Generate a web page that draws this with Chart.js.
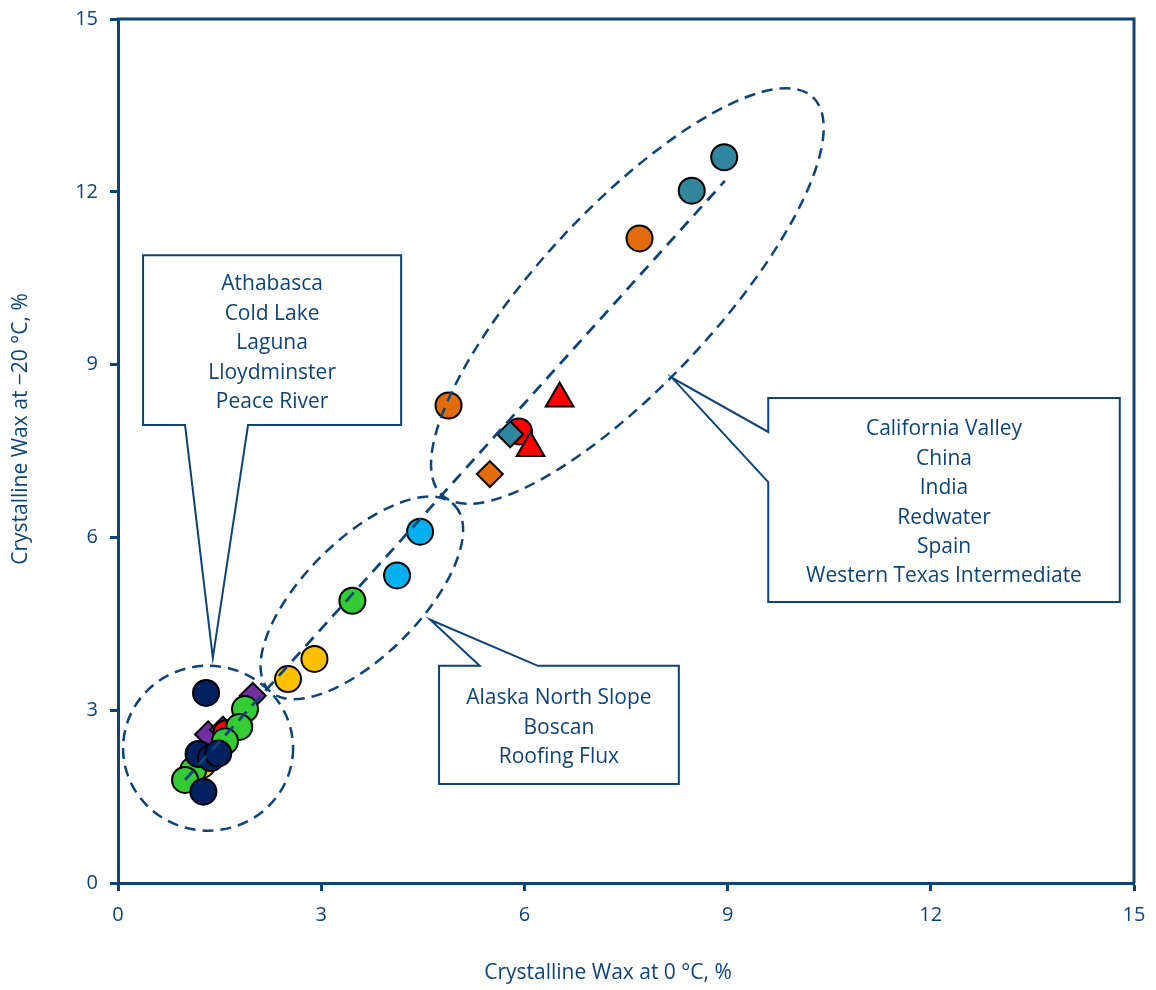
<!DOCTYPE html>
<html>
<head>
<meta charset="utf-8">
<script src="https://cdn.jsdelivr.net/npm/chart.js@4.4.1/dist/chart.umd.min.js"></script>
<style>
  html, body { margin: 0; padding: 0; background: #ffffff; }
  #wrap { width: 1156px; height: 990px; position: relative; }
</style>
</head>
<body>
<div id="wrap"><canvas id="chart" width="1156" height="990"></canvas></div>
<script>
// Crystalline wax content: x = at 0 °C (%), y = at -20 °C (%)
const navyCircleX   = [1.30, 1.19, 1.37, 1.48, 1.26];
const navyCircleY   = [3.30, 2.24, 2.17, 2.25, 1.585];
const greenCircleX  = [3.46, 1.875, 1.79, 1.58, 1.11, 0.99];
const greenCircleY  = [4.90, 3.02, 2.71, 2.46, 1.96, 1.79];
const redCircleX    = [5.92, 1.60];
const redCircleY    = [7.84, 2.60];
const purpleDiamondX = [1.99, 1.33, 1.55];
const purpleDiamondY = [3.25, 2.58, 2.66];
const yellowCircleX = [2.90, 2.51, 1.24];
const yellowCircleY = [3.89, 3.54, 2.05];
const skyCircleX    = [4.46, 4.12];
const skyCircleY    = [6.10, 5.34];
const orangeCircleX = [4.88, 7.70];
const orangeCircleY = [8.29, 11.19];
const orangeDiamondX = [5.49];
const orangeDiamondY = [7.10];
const tealCircleX   = [8.47, 8.95];
const tealCircleY   = [12.02, 12.60];
const tealDiamondX  = [5.79];
const tealDiamondY  = [7.79];
const redTriangleX  = [6.52, 6.09];
const redTriangleY  = [8.41, 7.55];

// Trend line end points
const trendX = [0.99, 8.96];
const trendY = [1.79, 12.19];

// Axis ticks
const xTickValues = [0, 3, 6, 9, 12, 15];
const yTickValues = [0, 3, 6, 9, 12, 15];

// Callout label lists
const heavyGroup = ['Athabasca', 'Cold Lake', 'Laguna', 'Lloydminster', 'Peace River'];
const middleGroup = ['Alaska North Slope', 'Boscan', 'Roofing Flux'];
const waxyGroup = ['California Valley', 'China', 'India', 'Redwater', 'Spain', 'Western Texas Intermediate'];

const INK = '#0D4477';
const FONT = '"Open Sans", Lato, sans-serif';

function pts(xs, ys) { return xs.map((v, i) => ({ x: v, y: ys[i] })); }

function markerSet(label, xs, ys, color, style, radius, order) {
  return {
    type: 'scatter', label, data: pts(xs, ys),
    pointStyle: style, pointRadius: radius, pointHoverRadius: radius,
    backgroundColor: color, borderColor: '#000000', borderWidth: 2,
    order
  };
}

// Grouping ellipses (centre in data units, radii in pixels)
const ellipses = [
  { cx: 1.33, cy: 2.34, rx: 85, ry: 82.5, rot: 0 },
  { cx: 3.60, cy: 4.95, rx: 131, ry: 58, rot: -45 },
  { cx: 7.52, cy: 10.19, rx: 272, ry: 88, rot: -47 }
];

// Callout boxes with a wedge pointer (data units)
const callouts = [
  { lines: heavyGroup, x0: 0.37, x1: 4.18, yTop: 10.90, yBot: 7.95,
    edge: 'bottom', b1: 0.99, b2: 1.92, tip: { x: 1.40, y: 3.91 } },
  { lines: middleGroup, x0: 4.74, x1: 8.28, yTop: 3.77, yBot: 1.72,
    edge: 'top', b1: 5.34, b2: 6.20, tip: { x: 4.61, y: 4.57 } },
  { lines: waxyGroup, x0: 9.60, x1: 14.79, yTop: 8.42, yBot: 4.88,
    edge: 'left', b1: 7.83, b2: 6.96, tip: { x: 8.18, y: 8.77 } }
];

const decorations = {
  id: 'decorations',
  afterDatasetsDraw(chart) {
    const { ctx, scales: { x, y } } = chart;
    const px = v => x.getPixelForValue(v);
    const py = v => y.getPixelForValue(v);
    ctx.save();

    // dashed ellipses
    ctx.strokeStyle = INK;
    ctx.lineWidth = 2.5;
    ctx.setLineDash([11, 7]);
    ellipses.forEach(e => {
      ctx.beginPath();
      ctx.ellipse(px(e.cx), py(e.cy), e.rx, e.ry, e.rot * Math.PI / 180, 0, 2 * Math.PI);
      ctx.stroke();
    });
    ctx.setLineDash([]);

    // callouts
    callouts.forEach(c => {
      const L = px(c.x0), R = px(c.x1), T = py(c.yTop), B = py(c.yBot);
      const tx = px(c.tip.x), ty = py(c.tip.y);
      ctx.beginPath();
      if (c.edge === 'bottom') {
        ctx.moveTo(L, T); ctx.lineTo(R, T); ctx.lineTo(R, B);
        ctx.lineTo(px(c.b2), B); ctx.lineTo(tx, ty); ctx.lineTo(px(c.b1), B);
        ctx.lineTo(L, B);
      } else if (c.edge === 'top') {
        ctx.moveTo(L, T); ctx.lineTo(px(c.b1), T); ctx.lineTo(tx, ty);
        ctx.lineTo(px(c.b2), T); ctx.lineTo(R, T); ctx.lineTo(R, B); ctx.lineTo(L, B);
      } else {
        ctx.moveTo(L, T); ctx.lineTo(R, T); ctx.lineTo(R, B); ctx.lineTo(L, B);
        ctx.lineTo(L, py(c.b2)); ctx.lineTo(tx, ty); ctx.lineTo(L, py(c.b1));
      }
      ctx.closePath();
      ctx.fillStyle = '#ffffff';
      ctx.fill();
      ctx.lineWidth = 2;
      ctx.strokeStyle = INK;
      ctx.stroke();

      ctx.fillStyle = INK;
      ctx.font = '21px ' + FONT;
      ctx.textAlign = 'center';
      ctx.textBaseline = 'middle';
      const lh = 29.4;
      const cx = (L + R) / 2, cy = (T + B) / 2 + 3;
      const start = cy - lh * (c.lines.length - 1) / 2;
      c.lines.forEach((t, i) => ctx.fillText(t, cx, start + i * lh));
    });
    ctx.restore();
  },
  afterDraw(chart) {
    const { ctx, chartArea: a } = chart;
    ctx.save();
    // top and right frame lines
    ctx.strokeStyle = INK;
    ctx.lineWidth = 3;
    ctx.beginPath();
    ctx.moveTo(a.left - 1.5, a.top);
    ctx.lineTo(a.right, a.top);
    ctx.lineTo(a.right, a.bottom);
    ctx.stroke();

    // axis titles
    ctx.fillStyle = INK;
    ctx.font = '21px ' + FONT;
    ctx.textAlign = 'center';
    ctx.textBaseline = 'middle';
    ctx.fillText('Crystalline Wax at 0 °C, %', 608, 973);
    ctx.translate(21, 429);
    ctx.rotate(-Math.PI / 2);
    ctx.fillText('Crystalline Wax at \u221220 °C, %', 0, 0);
    ctx.restore();
  }
};

const axisCommon = {
  type: 'linear', min: 0, max: 15,
  ticks: { color: INK, font: { family: FONT, size: 20 }, padding: 12 },
  grid: { display: true, drawOnChartArea: false, drawTicks: true, tickLength: 8, tickColor: INK, tickWidth: 3 },
  border: { display: true, color: INK, width: 3 }
};

new Chart(document.getElementById('chart'), {
  type: 'scatter',
  data: {
    datasets: [
      {
        type: 'line', label: 'Trend', data: pts(trendX, trendY),
        borderColor: INK, borderWidth: 2.75, borderDash: [12, 8],
        pointRadius: 0, fill: false, tension: 0, order: 0
      },
      markerSet('Navy', navyCircleX, navyCircleY, '#002060', 'circle', 13, 1),
      markerSet('Green', greenCircleX, greenCircleY, '#33CC33', 'circle', 13, 2),
      markerSet('Red', redCircleX, redCircleY, '#FF0000', 'circle', 13, 3),
      markerSet('Purple', purpleDiamondX, purpleDiamondY, '#7030A0', 'rectRot', 13, 4),
      markerSet('Yellow', yellowCircleX, yellowCircleY, '#FFC000', 'circle', 13, 5),
      markerSet('Sky', skyCircleX, skyCircleY, '#00B0F0', 'circle', 13, 6),
      markerSet('Orange', orangeCircleX, orangeCircleY, '#E46C0A', 'circle', 13, 7),
      markerSet('Orange diamond', orangeDiamondX, orangeDiamondY, '#E46C0A', 'rectRot', 13, 8),
      markerSet('Teal', tealCircleX, tealCircleY, '#31859C', 'circle', 13, 9),
      markerSet('Teal diamond', tealDiamondX, tealDiamondY, '#31859C', 'rectRot', 13, 2.5),
      markerSet('Red triangle', redTriangleX, redTriangleY, '#FF0000', 'triangle', 16, 2.6)
    ]
  },
  options: {
    responsive: false,
    animation: false,
    devicePixelRatio: 1,
    layout: { padding: { top: 19, right: 22, left: 0, bottom: 0 } },
    plugins: { legend: { display: false }, tooltip: { enabled: false }, title: { display: false } },
    scales: {
      x: Object.assign({}, axisCommon, {
        position: 'bottom',
        afterBuildTicks: s => { s.ticks = xTickValues.map(v => ({ value: v })); },
        afterFit: s => { s.height = 107; s.paddingLeft = 0; s.paddingRight = 0; }
      }),
      y: Object.assign({}, axisCommon, {
        position: 'left',
        afterBuildTicks: s => { s.ticks = yTickValues.map(v => ({ value: v })); },
        afterFit: s => { s.width = 118; s.paddingTop = 0; s.paddingBottom = 0; }
      })
    }
  },
  plugins: [decorations]
});
</script>
</body>
</html>
